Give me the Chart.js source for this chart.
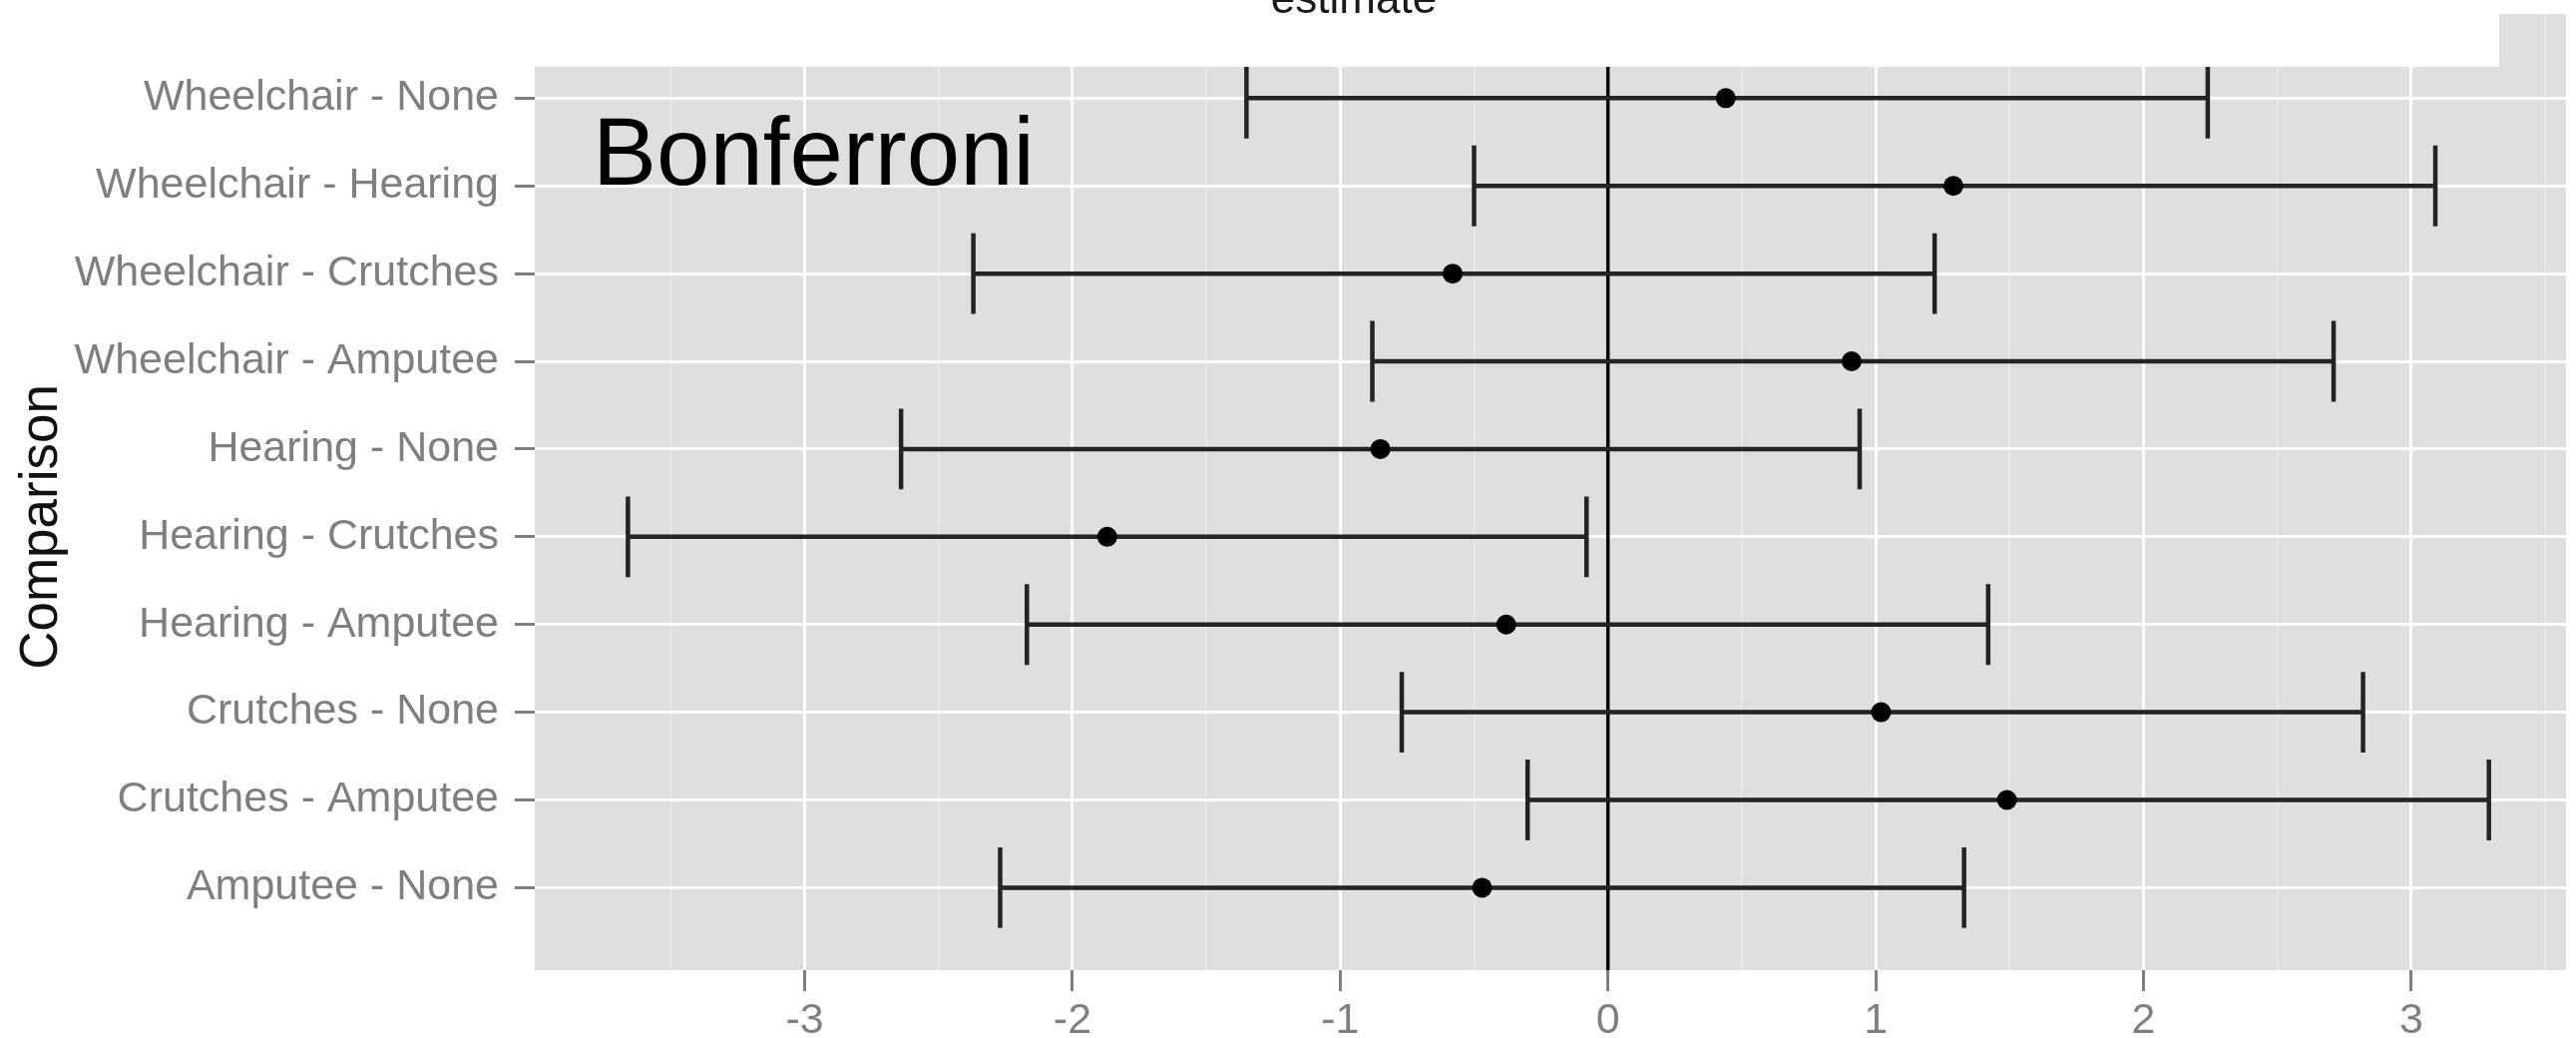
<!DOCTYPE html>
<html>
<head>
<meta charset="utf-8">
<title>Bonferroni intervals</title>
<script src="https://cdn.jsdelivr.net/npm/chart.js@4.4.1/dist/chart.umd.min.js"></script>
<style>
  html, body { margin: 0; padding: 0; background: #ffffff; }
  #wrap { width: 2582px; height: 1040px; position: relative; }
</style>
</head>
<body>
<div id="wrap"><canvas id="ci-chart"></canvas></div>
<script>
const categories = [
  "Wheelchair - None",
  "Wheelchair - Hearing",
  "Wheelchair - Crutches",
  "Wheelchair - Amputee",
  "Hearing - None",
  "Hearing - Crutches",
  "Hearing - Amputee",
  "Crutches - None",
  "Crutches - Amputee",
  "Amputee - None",
];
const estimates = [0.44, 1.29, -0.58, 0.91, -0.85, -1.87, -0.38, 1.02, 1.49, -0.47];
const lowerBounds = [-1.35, -0.5, -2.37, -0.88, -2.64, -3.66, -2.17, -0.77, -0.3, -2.27];
const upperBounds = [2.24, 3.09, 1.22, 2.71, 0.94, -0.08, 1.42, 2.82, 3.29, 1.33];

const xTickValues = [-3.5, -3, -2.5, -2, -1.5, -1, -0.5, 0, 0.5, 1, 1.5, 2, 2.5, 3, 3.5];
const xMajorTicks = [-3, -2, -1, 0, 1, 2, 3];

const FONT = "'Liberation Sans', Arial, Helvetica, sans-serif";
const PANEL_BG = "#dfdfdf";
const AXIS_GREY = "#7f7f7f";
const BAR_COLOR = "#232323";
const CAP_WIDTH = 0.92;

function isMajor(c) {
  return !!c.tick && xMajorTicks.includes(c.tick.value);
}

const panelPlugin = {
  id: "panel",
  beforeDraw(chart) {
    const { ctx, chartArea } = chart;
    ctx.save();
    ctx.fillStyle = PANEL_BG;
    ctx.fillRect(chartArea.left, chartArea.top, chartArea.right - chartArea.left, chartArea.bottom - chartArea.top);
    ctx.restore();
  },
};

const errorBarPlugin = {
  id: "errorBars",
  beforeDatasetsDraw(chart) {
    const { ctx, chartArea } = chart;
    const x = chart.scales.x;
    const y = chart.scales.y;
    ctx.save();
    ctx.beginPath();
    ctx.rect(chartArea.left, chartArea.top, chartArea.right - chartArea.left, chartArea.bottom - chartArea.top);
    ctx.clip();

    // reference line at zero
    const x0 = x.getPixelForValue(0);
    ctx.strokeStyle = "#000000";
    ctx.lineWidth = 3.5;
    ctx.beginPath();
    ctx.moveTo(x0, chartArea.top);
    ctx.lineTo(x0, chartArea.bottom);
    ctx.stroke();

    ctx.strokeStyle = BAR_COLOR;
    ctx.lineWidth = 4.5;
    categories.forEach((cat, i) => {
      const yc = y.getPixelForValue(i);
      const half = Math.abs(y.getPixelForValue(i + CAP_WIDTH / 2) - yc);
      const xl = x.getPixelForValue(lowerBounds[i]);
      const xh = x.getPixelForValue(upperBounds[i]);
      ctx.beginPath();
      ctx.moveTo(xl, yc);
      ctx.lineTo(xh, yc);
      ctx.moveTo(xl, yc - half);
      ctx.lineTo(xl, yc + half);
      ctx.moveTo(xh, yc - half);
      ctx.lineTo(xh, yc + half);
      ctx.stroke();
    });
    ctx.restore();
  },
  afterDatasetsDraw(chart) {
    const { ctx, chartArea } = chart;
    ctx.save();
    ctx.fillStyle = "#000000";
    ctx.font = `96px ${FONT}`;
    ctx.textAlign = "left";
    ctx.textBaseline = "alphabetic";
    ctx.fillText("Bonferroni", chartArea.left + 58, 185);
    ctx.restore();
  },
};

const labelsPlugin = {
  id: "outerLabels",
  afterDraw(chart) {
    const { ctx } = chart;
    ctx.save();
    ctx.fillStyle = "#111111";
    ctx.font = `53px ${FONT}`;
    ctx.textAlign = "center";
    ctx.textBaseline = "alphabetic";
    ctx.translate(57, 528);
    ctx.rotate(-Math.PI / 2);
    ctx.fillText("Comparison", 0, 0);
    ctx.restore();

    // strip of the panel above, cropped into the picture
    ctx.save();
    ctx.fillStyle = "#ffffff";
    ctx.fillRect(0, 0, 2505, 67);
    ctx.fillStyle = "#1a1a1a";
    ctx.font = `44px ${FONT}`;
    ctx.textAlign = "center";
    ctx.textBaseline = "alphabetic";
    ctx.fillText("estimate", 1357, 13);
    ctx.restore();
  },
};

const points = estimates.map((v, i) => ({ x: v, y: i }));

new Chart(document.getElementById("ci-chart").getContext("2d"), {
  type: "scatter",
  data: {
    datasets: [
      {
        label: "estimate",
        data: points,
        pointRadius: 10,
        pointBackgroundColor: "#000000",
        pointBorderWidth: 0,
        pointHoverRadius: 10,
      },
    ],
  },
  options: {
    responsive: true,
    maintainAspectRatio: false,
    animation: false,
    events: [],
    layout: {
      padding: { top: 14, right: 0, bottom: 0, left: 0 },
    },
    plugins: {
      legend: { display: false },
      tooltip: { enabled: false },
    },
    scales: {
      x: {
        type: "linear",
        min: -4.008,
        max: 3.578,
        afterBuildTicks: (scale) => {
          scale.ticks = xTickValues.map((v) => ({ value: v }));
        },
        afterFit: (scale) => {
          scale.height = 68;
          scale.paddingLeft = 0;
          scale.paddingRight = 0;
        },
        border: { display: false },
        grid: {
          color: (c) => (isMajor(c) ? "#ffffff" : "#ebebeb"),
          lineWidth: (c) => (isMajor(c) ? 3 : 1.6),
          tickColor: (c) => (isMajor(c) ? AXIS_GREY : "rgba(0,0,0,0)"),
          tickWidth: 3,
          tickLength: 21,
        },
        ticks: {
          autoSkip: false,
          maxRotation: 0,
          padding: 4,
          color: AXIS_GREY,
          font: { family: FONT, size: 43 },
          callback: (v) => (xMajorTicks.includes(v) ? String(v) : ""),
        },
      },
      y: {
        type: "linear",
        reverse: true,
        min: -0.96,
        max: 9.94,
        afterBuildTicks: (scale) => {
          scale.ticks = categories.map((c, i) => ({ value: i }));
        },
        afterFit: (scale) => {
          scale.width = 536;
          scale.paddingTop = 0;
          scale.paddingBottom = 0;
        },
        border: { display: false },
        grid: {
          color: "#ffffff",
          lineWidth: 3,
          tickColor: AXIS_GREY,
          tickWidth: 3,
          tickLength: 20,
        },
        ticks: {
          autoSkip: false,
          padding: 16,
          color: AXIS_GREY,
          font: { family: FONT, size: 43 },
          callback: (v) => categories[v],
        },
      },
    },
  },
  plugins: [panelPlugin, errorBarPlugin, labelsPlugin],
});
</script>
</body>
</html>
